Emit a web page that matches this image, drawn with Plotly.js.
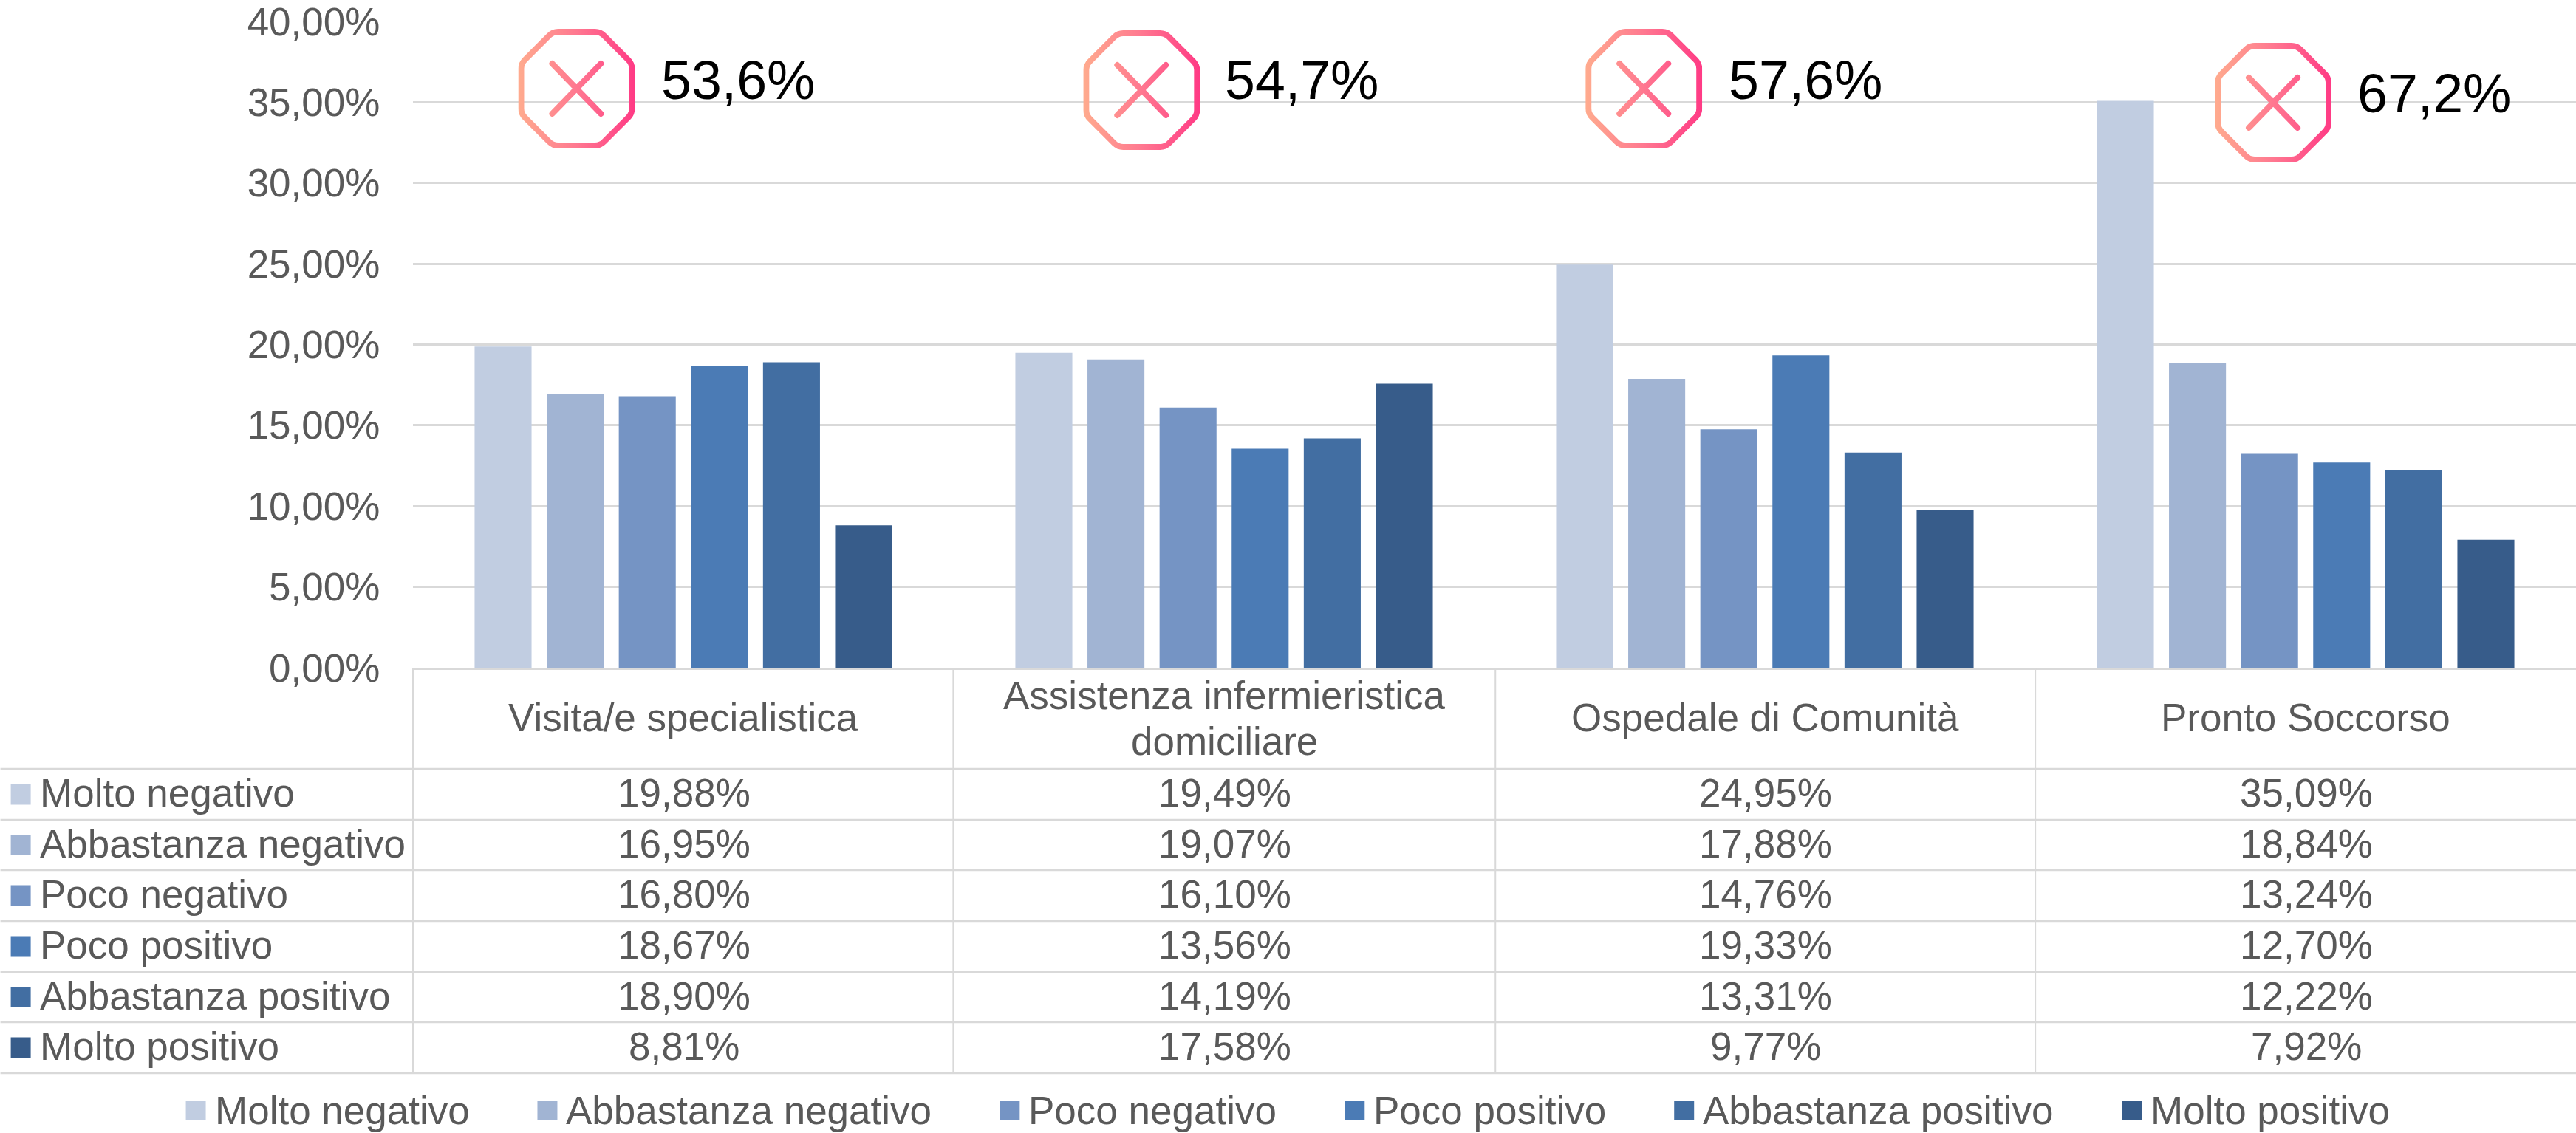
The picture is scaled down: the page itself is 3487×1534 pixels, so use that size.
<!DOCTYPE html>
<html>
<head>
<meta charset="utf-8">
<script src="https://cdn.plot.ly/plotly-3.0.1.min.js"></script>
<style>html,body{margin:0;padding:0;background:#fff}</style>
</head>
<body>
<div id="chart" style="width:3487px;height:1534px"></div>
<script>
const categories = ["Visita/e specialistica", "Assistenza infermieristica domiciliare", "Ospedale di Comunità", "Pronto Soccorso"];
const categoryLines = [["Visita/e specialistica"], ["Assistenza infermieristica", "domiciliare"], ["Ospedale di Comunità"], ["Pronto Soccorso"]];
const seriesNames = ["Molto negativo", "Abbastanza negativo", "Poco negativo", "Poco positivo", "Abbastanza positivo", "Molto positivo"];
const seriesColors = ["#C1CDE1", "#A1B4D3", "#7594C4", "#4B7BB5", "#426EA2", "#375C8A"];
const moltoNegativo = [19.88, 19.49, 24.95, 35.09];
const abbastanzaNegativo = [16.95, 19.07, 17.88, 18.84];
const pocoNegativo = [16.80, 16.10, 14.76, 13.24];
const pocoPositivo = [18.67, 13.56, 19.33, 12.70];
const abbastanzaPositivo = [18.90, 14.19, 13.31, 12.22];
const moltoPositivo = [8.81, 17.58, 9.77, 7.92];
const seriesValues = [moltoNegativo, abbastanzaNegativo, pocoNegativo, pocoPositivo, abbastanzaPositivo, moltoPositivo];
const yTicks = [0, 5, 10, 15, 20, 25, 30, 35, 40];
const calloutLabels = ["53,6%", "54,7%", "57,6%", "67,2%"];

// page layout, in pixels
const W = 3487, H = 1534, L = 558.5, T = 29, B = 904;
const px = x => (x - L) / (W - L);
const py = y => (B - y) / (B - T);
const FONT = '"Liberation Sans", Arial, sans-serif';
const GREY = "#595959", LINE = "#D9D9D9";
const SIZE = 53;
const rowLines = [1041, 1110, 1178, 1247, 1316, 1384, 1453];
const colLines = [1290, 2024, 2755];
const legendSwatchX = [251, 727, 1353, 1820, 2266, 2872];
const calloutIcon = [[780, 120], [1545, 122], [2225, 120], [3077, 139]];
const calloutText = [[894, 108], [1657, 108], [2339, 108], [3190, 127]];

const fmt = v => v.toFixed(2).replace(".", ",") + "%";

const traces = seriesNames.map((name, i) => ({
  type: "bar",
  name: name,
  x: categories,
  y: seriesValues[i],
  marker: {color: seriesColors[i], line: {width: 0}},
  hoverinfo: "x+y+name"
}));

const shapes = [];
const annotations = [];
const hline = (x0, x1, y) => shapes.push({type: "line", xref: "paper", yref: "paper", x0: px(x0), x1: px(x1), y0: py(y), y1: py(y), line: {color: LINE, width: 2.5}});
const vline = (x, y0, y1) => shapes.push({type: "line", xref: "paper", yref: "paper", x0: px(x), x1: px(x), y0: py(y0), y1: py(y1), line: {color: LINE, width: 2}});
const text = (t, x, y, o) => annotations.push(Object.assign({
  text: t, xref: "paper", yref: "paper", x: px(x), y: py(y), showarrow: false,
  xanchor: "left", yanchor: "middle", align: "center",
  font: {family: FONT, size: SIZE, color: GREY}, borderpad: 0
}, o || {}));

rowLines.forEach(y => hline(0, W, y));
vline(L, B, rowLines[rowLines.length - 1]);
colLines.forEach(x => vline(x, B, rowLines[rowLines.length - 1]));

categoryLines.forEach((lines, j) => {
  lines.forEach((line, k) => {
    const yc = 972 + (k - (lines.length - 1) / 2) * 62;
    annotations.push({text: line, xref: "x", yref: "paper", x: j, y: py(yc), showarrow: false, xanchor: "center", yanchor: "middle", font: {family: FONT, size: SIZE, color: GREY}});
  });
});

seriesNames.forEach((name, i) => {
  const yc = (rowLines[i] + rowLines[i + 1]) / 2;
  shapes.push({type: "rect", xref: "paper", yref: "paper", x0: px(14), x1: px(41), y0: py(yc - 14), y1: py(yc + 14), line: {width: 0}, fillcolor: seriesColors[i]});
  text(name, 52, yc - 2);
  seriesValues[i].forEach((v, j) => {
    annotations.push({text: fmt(v), xref: "x", yref: "paper", x: j, xshift: 1, y: py(yc - 2), showarrow: false, xanchor: "center", yanchor: "middle", font: {family: FONT, size: SIZE, color: GREY}});
  });
  const sx = legendSwatchX[i];
  shapes.push({type: "rect", xref: "paper", yref: "paper", x0: px(sx), x1: px(sx + 27), y0: py(1490), y1: py(1517), line: {width: 0}, fillcolor: seriesColors[i]});
  text(name, sx + 38, 1503);
});

const iconSvg = '<svg xmlns="http://www.w3.org/2000/svg" width="158" height="162" viewBox="0 0 158 162">' +
  '<defs><linearGradient id="g" gradientUnits="userSpaceOnUse" x1="0" y1="0" x2="158" y2="0">' +
  '<stop offset="0" stop-color="#FFAB8E"/><stop offset="0.5" stop-color="#FF7890"/><stop offset="1" stop-color="#FF3A85"/></linearGradient></defs>' +
  '<path fill="none" stroke="url(#g)" stroke-width="8" d="M54,4 H104 Q111,4 116,9 L149,42 Q154,47 154,54 V108 Q154,115 149,120 L116,153 Q111,158 104,158 H54 Q47,158 42,153 L9,120 Q4,115 4,108 V54 Q4,47 9,42 L42,9 Q47,4 54,4 Z"/>' +
  '<path fill="none" stroke="url(#g)" stroke-width="8" stroke-linecap="round" d="M46,47 L112,115 M112,47 L46,115"/></svg>';
const iconUri = "data:image/svg+xml;base64," + btoa(iconSvg);
const images = calloutIcon.map(c => ({
  source: iconUri, xref: "paper", yref: "paper", x: px(c[0] - 79), y: py(c[1] - 81),
  sizex: 158 / (W - L), sizey: 162 / (B - T), xanchor: "left", yanchor: "top", sizing: "stretch", layer: "above"
}));
calloutLabels.forEach((t, i) => text(t, calloutText[i][0], calloutText[i][1], {font: {family: FONT, size: 73.5, color: "#000000"}}));

const layout = {
  width: W, height: H,
  margin: {l: L, r: 0, t: T, b: H - B, pad: 0},
  paper_bgcolor: "#fff", plot_bgcolor: "#fff",
  showlegend: false,
  barmode: "group", bargap: 0.2, bargroupgap: 0.21,
  separators: ",.",
  font: {family: FONT, color: GREY},
  xaxis: {type: "category", showticklabels: false, ticks: "", showgrid: false, showline: true, linecolor: LINE, linewidth: 2.5, zeroline: false, range: [-0.5, 3.5]},
  yaxis: {range: [0, 40], tickmode: "array", tickvals: yTicks, ticktext: yTicks.map(fmt), showgrid: true, gridcolor: LINE, gridwidth: 2.5, zeroline: false, showline: false, ticks: "outside", ticklen: 33, tickwidth: 0, tickcolor: "rgba(0,0,0,0)", ticklabeloverflow: "allow", tickfont: {family: FONT, size: SIZE, color: GREY}},
  shapes: shapes, annotations: annotations, images: images
};
Plotly.newPlot("chart", traces, layout, {displayModeBar: false, responsive: false});
</script>
</body>
</html>
